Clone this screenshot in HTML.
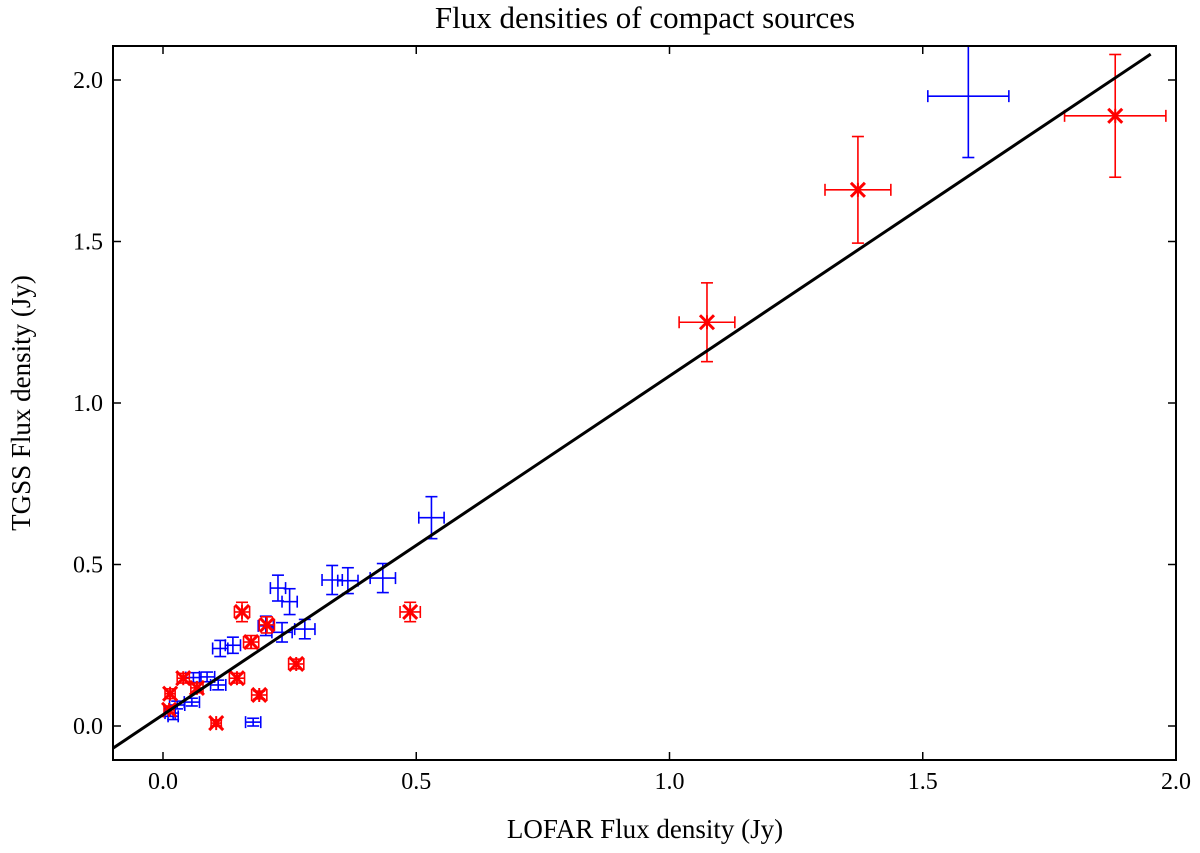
<!DOCTYPE html>
<html><head><meta charset="utf-8"><style>
html,body{margin:0;padding:0;background:#fff}
svg{display:block;font-family:"Liberation Serif",serif}
</style></head><body>
<svg id="c" width="1200" height="853"></svg>
<script>
const blueX=[1.59,0.53,0.334,0.365,0.434,0.227,0.25,0.203,0.235,0.28,0.113,0.138,0.178,0.06,0.087,0.109,0.057,0.028,0.014,0.02];
const blueY=[1.95,0.645,0.452,0.45,0.458,0.427,0.385,0.31,0.29,0.30,0.24,0.25,0.012,0.15,0.152,0.127,0.074,0.065,0.04,0.03];
const blueXe=[0.08,0.025,0.02,0.02,0.025,0.015,0.015,0.015,0.02,0.02,0.015,0.015,0.015,0.015,0.015,0.015,0.015,0.015,0.01,0.01];
const blueYe=[0.19,0.065,0.045,0.04,0.045,0.04,0.04,0.03,0.03,0.03,0.025,0.025,0.012,0.015,0.015,0.015,0.012,0.012,0.01,0.01];
const redX=[1.074,1.372,1.88,0.488,0.156,0.174,0.205,0.263,0.19,0.105,0.146,0.04,0.014,0.012,0.067];
const redY=[1.25,1.66,1.889,0.353,0.353,0.26,0.313,0.192,0.096,0.009,0.148,0.148,0.1,0.05,0.118];
const redXe=[0.055,0.065,0.1,0.02,0.015,0.015,0.015,0.015,0.015,0.01,0.015,0.012,0.01,0.01,0.012];
const redYe=[0.122,0.165,0.19,0.03,0.03,0.02,0.025,0.015,0.012,0.01,0.015,0.015,0.015,0.012,0.015];
const xTicks=[0.0,0.5,1.0,1.5,2.0];
const yTicks=[0.0,0.5,1.0,1.5,2.0];
const fitLine=[[-0.1,-0.07],[1.95,2.08]];
const L=113,R=1176,T=46,B=760;
const sx=v=>163+v*506.5, sy=v=>726-v*323;
const svg=document.getElementById('c');const NS='http://www.w3.org/2000/svg';
function mk(t,a,p){const e=document.createElementNS(NS,t);for(const k in a)e.setAttribute(k,a[k]);(p||svg).appendChild(e);return e;}
const ln=(x1,y1,x2,y2,c,w,p)=>mk('line',{x1,y1,x2,y2,stroke:c,'stroke-width':w},p);
const t=mk('text',{x:645,y:28,'text-anchor':'middle','font-size':31});t.textContent='Flux densities of compact sources';

const xl=mk('text',{x:645,y:838,'text-anchor':'middle','font-size':27});xl.textContent='LOFAR Flux density (Jy)';

const yl=mk('text',{x:0,y:0,'text-anchor':'middle','font-size':27,transform:'translate(30,403) rotate(-90)'});yl.textContent='TGSS Flux density (Jy)';

const clip=mk('clipPath',{id:'cp'});mk('rect',{x:L,y:T,width:R-L,height:B-T},clip);
const g=mk('g',{'clip-path':'url(#cp)'});

xTicks.forEach(v=>{const x=sx(v);ln(x,B,x,B-8,'#000',1.5);ln(x,T,x,T+8,'#000',1.5);
 const e=mk('text',{x,y:789,'text-anchor':'middle','font-size':24});e.textContent=v.toFixed(1);
 });
yTicks.forEach(v=>{const y=sy(v);ln(L,y,L+8,y,'#000',1.5);ln(R,y,R-8,y,'#000',1.5);
 const e=mk('text',{x:103,y:y+8,'text-anchor':'end','font-size':24});e.textContent=v.toFixed(1);
 });
function eb(x,y,xe,ye,c,name){const gg=mk('g',{},g);
 
 const X=sx(x),Y=sy(y),x1=sx(x-xe),x2=sx(x+xe),y1=sy(y+ye),y2=sy(y-ye),cp=6;
 ln(x1,Y,x2,Y,c,1.6,gg);ln(X,y1,X,y2,c,1.6,gg);
 ln(x1,Y-cp,x1,Y+cp,c,1.6,gg);ln(x2,Y-cp,x2,Y+cp,c,1.6,gg);
 ln(X-cp,y1,X+cp,y1,c,1.6,gg);ln(X-cp,y2,X+cp,y2,c,1.6,gg);return [gg,X,Y];}
blueX.forEach((x,i)=>eb(x,blueY[i],blueXe[i],blueYe[i],'#0000ff','blue-point'));
redX.forEach((x,i)=>{const [gg,X,Y]=eb(x,redY[i],redXe[i],redYe[i],'#ff0000','red-point');const s=7;
 ln(X-s,Y-s,X+s,Y+s,'#ff0000',3,gg);ln(X-s,Y+s,X+s,Y-s,'#ff0000',3,gg);ln(X,Y-s,X,Y+s,'#ff0000',2,gg);});
const fl=ln(sx(fitLine[0][0]),sy(fitLine[0][1]),sx(fitLine[1][0]),sy(fitLine[1][1]),'#000',3,g);

const fr=mk('rect',{x:L,y:T,width:R-L,height:B-T,fill:'none',stroke:'#000','stroke-width':2});

</script>
</body></html>
